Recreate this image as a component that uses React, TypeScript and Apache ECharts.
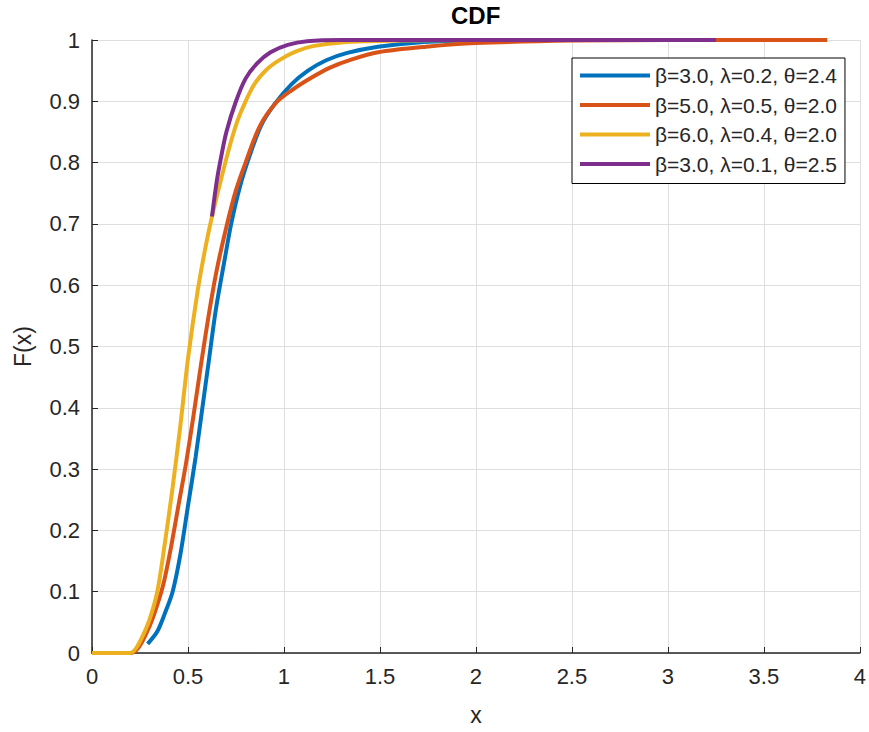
import React, { useEffect, useRef } from "react";
import * as echarts from "echarts";

const seriesNames = [
  "β=3.0, λ=0.2, θ=2.4",
  "β=5.0, λ=0.5, θ=2.0",
  "β=6.0, λ=0.4, θ=2.0",
  "β=3.0, λ=0.1, θ=2.5",
];
const colors = ["#0072BD", "#D95319", "#EDB120", "#7E2F8E"];

const blueData: [number, number][] = [
  [0.29, 0.015], [0.34, 0.035], [0.38, 0.065], [0.42, 0.1], [0.46, 0.16], [0.5, 0.24],
  [0.54, 0.32], [0.575, 0.4], [0.61, 0.48], [0.645, 0.56], [0.69, 0.64], [0.725, 0.7],
  [0.77, 0.76], [0.82, 0.81], [0.88, 0.86], [0.95, 0.895], [1.04, 0.928], [1.125, 0.95],
  [1.22, 0.967], [1.33, 0.979], [1.49, 0.989], [1.7, 0.996], [2.0, 0.999], [2.5, 1.0],
  [3.0, 1.0],
];
const orangeData: [number, number][] = [
  [0, 0], [0.2, 0], [0.24, 0.008], [0.28, 0.03], [0.32, 0.06], [0.37, 0.11], [0.41, 0.17],
  [0.45, 0.24], [0.49, 0.31], [0.53, 0.39], [0.57, 0.475], [0.61, 0.555], [0.65, 0.625],
  [0.7, 0.695], [0.75, 0.755], [0.8, 0.8], [0.875, 0.86], [0.96, 0.898], [1.04, 0.918],
  [1.14, 0.938], [1.24, 0.955], [1.35, 0.968], [1.49, 0.98], [1.74, 0.989], [2.0, 0.995],
  [2.5, 0.999], [3.0, 1.0], [3.83, 1.0],
];
const yellowData: [number, number][] = [
  [0, 0], [0.2, 0], [0.23, 0.008], [0.26, 0.025], [0.3, 0.055], [0.34, 0.1], [0.38, 0.18],
  [0.42, 0.27], [0.46, 0.37], [0.5, 0.48], [0.55, 0.59], [0.59, 0.66], [0.625, 0.712],
  [0.67, 0.77], [0.72, 0.83], [0.76, 0.87], [0.8, 0.9], [0.85, 0.93], [0.91, 0.952],
  [0.98, 0.968], [1.06, 0.981], [1.15, 0.99], [1.3, 0.996], [1.6, 0.999], [2.0, 1.0],
  [2.8, 1.0],
];
const purpleData: [number, number][] = [
  [0.625, 0.712], [0.65, 0.77], [0.67, 0.805], [0.7, 0.85], [0.75, 0.9], [0.8, 0.937],
  [0.86, 0.962], [0.93, 0.98], [1.02, 0.992], [1.12, 0.998], [1.3, 1.0], [3.25, 1.0],
];
const allData = [blueData, orangeData, yellowData, purpleData];

const FONT = "'Liberation Sans', Arial, Helvetica, sans-serif";
const TXT = "#262626";

export default function App() {
  const ref = useRef<HTMLDivElement>(null);
  useEffect(() => {
    if (!ref.current) return;
    document.body.style.margin = "0";
    const chart = echarts.init(ref.current, undefined, { renderer: "svg" });
    chart.setOption({
      animation: false,
      backgroundColor: "#ffffff",
      textStyle: { fontFamily: FONT },
      title: {
        text: "CDF",
        left: 451,
        top: 3,
        padding: 0,
        textStyle: { fontFamily: FONT, fontSize: 24, fontWeight: "bold", color: "#000" },
      },
      grid: { left: 92, right: 2, top: 40, bottom: 79, containLabel: false },
      xAxis: {
        type: "value",
        min: 0,
        max: 4,
        interval: 0.5,
        name: "x",
        nameLocation: "middle",
        nameGap: 50,
        nameTextStyle: { fontFamily: FONT, fontSize: 23, color: TXT },
        axisLine: { show: true, onZero: false, lineStyle: { color: TXT, width: 1.5 } },
        axisTick: { show: true, inside: true, length: 6, lineStyle: { color: TXT } },
        axisLabel: { fontFamily: FONT, fontSize: 22, color: TXT, margin: 12 },
        splitLine: { show: true, lineStyle: { color: "#dedede", width: 1 } },
      },
      yAxis: {
        type: "value",
        min: 0,
        max: 1,
        interval: 0.1,
        name: "F(x)",
        nameLocation: "middle",
        nameGap: 58,
        nameTextStyle: { fontFamily: FONT, fontSize: 23, color: TXT },
        axisLine: { show: true, onZero: false, lineStyle: { color: TXT, width: 1.5 } },
        axisTick: { show: true, inside: true, length: 6, lineStyle: { color: TXT } },
        axisLabel: {
          fontFamily: FONT,
          fontSize: 22,
          color: TXT,
          margin: 12,
          formatter: (v: number) => String(Math.round(v * 10) / 10),
        },
        splitLine: { show: true, lineStyle: { color: "#dedede", width: 1 } },
      },
      legend: {
        orient: "vertical",
        left: 572,
        top: 58,
        padding: [7, 8, 9, 8],
        itemGap: 8.5,
        itemWidth: 70,
        itemHeight: 4,
        icon: "rect",
        backgroundColor: "#ffffff",
        borderColor: "#000000",
        borderWidth: 1,
        borderRadius: 0,
        data: seriesNames,
        textStyle: { fontFamily: FONT, fontSize: 21, color: TXT, lineHeight: 20 },
      },
      series: seriesNames.map((name, i) => ({
        name,
        type: "line",
        data: allData[i],
        showSymbol: false,
        symbol: "none",
        smooth: 0.3,
        color: colors[i],
        lineStyle: { color: colors[i], width: 4 },
        z: 2 + i,
      })),
    });
    return () => chart.dispose();
  }, []);
  return <div ref={ref} style={{ width: 869, height: 732 }} />;
}
